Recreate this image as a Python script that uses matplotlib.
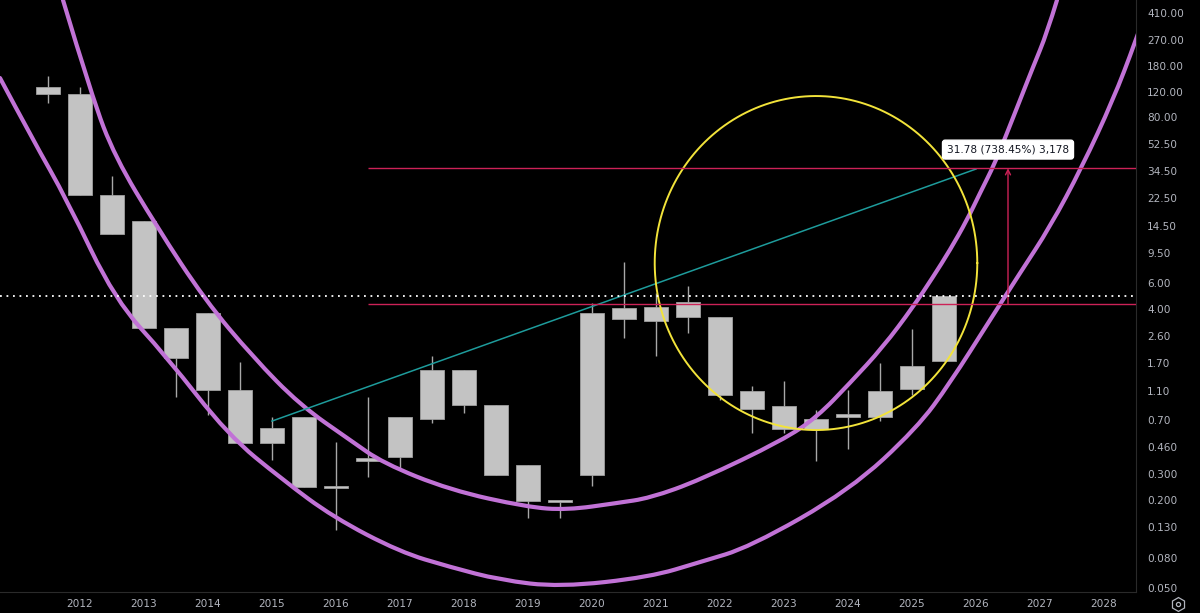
import numpy as np
import matplotlib
matplotlib.use("Agg")
import matplotlib.pyplot as plt
from matplotlib.lines import Line2D
from matplotlib.path import Path
from matplotlib.patches import PathPatch

# ---------------- data ----------------
periods = ['2011-H2', '2012-H1', '2012-H2', '2013-H1', '2013-H2', '2014-H1', '2014-H2',
           '2015-H1', '2015-H2', '2016-H1', '2016-H2', '2017-H1', '2017-H2', '2018-H1',
           '2018-H2', '2019-H1', '2019-H2', '2020-H1', '2020-H2', '2021-H1', '2021-H2',
           '2022-H1', '2022-H2', '2023-H1', '2023-H2', '2024-H1', '2024-H2', '2025-H1',
           '2025-H2']
opens = [129.5, 114.9, 23.6, 15.87, 2.97, 3.72, 1.119, 0.617, 0.736, 0.250, 0.368,
         0.394, 0.715, 1.53, 0.881, 0.3455, 0.199, 0.294, 3.42, 4.09, 3.51, 3.53,
         1.096, 0.867, 0.605, 0.768, 0.736, 1.131, 1.762]
highs = [153.8, 129.5, 31.96, 15.87, 2.97, 3.75, 1.727, 0.736, 0.736, 0.493, 0.998,
         0.736, 1.915, 1.53, 0.881, 0.3455, 0.199, 4.35, 8.35, 5.09, 5.73, 3.53,
         1.197, 1.294, 0.818, 1.119, 1.70, 2.91, 4.88]
lows = [100.7, 23.6, 12.8, 2.97, 1.008, 0.757, 0.49, 0.374, 0.246, 0.125, 0.288,
        0.323, 0.668, 0.777, 0.294, 0.15, 0.15, 0.2487, 2.54, 1.906, 2.72, 0.957,
        0.573, 0.568, 0.370, 0.444, 0.689, 1.035, 1.762]
closes = [114.9, 23.6, 12.8, 2.97, 1.856, 1.119, 0.49, 0.49, 0.246, 0.242, 0.384,
          0.736, 1.53, 0.881, 0.294, 0.1967, 0.194, 3.72, 4.02, 3.30, 4.42, 1.03,
          0.835, 0.610, 0.715, 0.736, 1.096, 1.637, 4.88]

# curved channel drawings (year, price) - anchor points
upper_arc_years = [2011.734, 2012.188, 2012.547, 2013.203, 2013.953, 2014.703, 2015.438,
                   2016.219, 2016.734, 2017.781, 2018.984, 2019.609, 2020.391, 2020.906,
                   2021.688, 2022.984, 2023.516, 2024.031, 2024.547, 2025.016, 2025.328,
                   2025.594, 2025.859, 2026.063, 2026.297, 2026.484, 2026.688, 2026.891,
                   2027.109, 2027.266]
upper_arc_prices = [503.4, 110.2, 43.04, 14.38, 4.583, 1.876, 0.8846,
                    0.5113, 0.3566, 0.2336, 0.1790, 0.1708, 0.1906, 0.2061,
                    0.2733, 0.5113, 0.7329, 1.249, 2.194, 4.107, 6.569,
                    10.03, 16.04, 24.49, 39.19, 62.68, 105.1, 176.2,
                    300.2, 503.4]
lower_arc_years = [2010.75, 2011.266, 2011.797, 2012.547, 2013.359, 2014.313, 2015.172,
                   2015.953, 2017.0, 2017.781, 2018.563, 2019.5, 2020.906, 2021.688,
                   2022.469, 2024.031, 2025.078, 2025.594, 2026.219, 2026.688, 2027.156,
                   2027.656, 2028.141, 2028.484, 2028.72]
lower_arc_prices = [148.4, 56.17, 21.95, 4.583, 1.876, 0.5529, 0.2733,
                    0.1531, 0.0885, 0.0700, 0.0571, 0.0511, 0.0598, 0.0756,
                    0.0957, 0.2336, 0.6171, 1.249, 3.350, 6.996, 14.38,
                    36.79, 105.1, 256.7, 503.0]

# trend line
trend_years = [2015.0, 2026.0]
trend_prices = [0.688, 35.66]

# price range measurement
range_change = 31.78
range_pct = 738.45
range_start_year = 2016.5
range_arrow_year = 2026.5

# highlight circle (centre year, centre price, radius in years, radius in decades)
circle_center = (2023.5, 8.18)
circle_radius_years = 2.52
circle_radius_decades = 1.136

ytick_values = [410, 270, 180, 120, 80, 52.5, 34.5, 22.5, 14.5, 9.5, 6, 4, 2.6, 1.7,
                1.1, 0.7, 0.46, 0.3, 0.2, 0.13, 0.08, 0.05]
ytick_labels = ['410.00', '270.00', '180.00', '120.00', '80.00', '52.50', '34.50',
                '22.50', '14.50', '9.50', '6.00', '4.00', '2.60', '1.70', '1.10',
                '0.70', '0.460', '0.300', '0.200', '0.130', '0.080', '0.050']
xtick_years = list(range(2012, 2029))

# ---------------- style ----------------
BG = '#000000'
CANDLE = '#c3c3c3'
CANDLE_EDGE = '#a0a0a0'
WICK = '#a8a8a8'
PURPLE = '#c172d6'
CRIMSON = '#cc2257'
TEAL = '#1e9c9c'
YELLOW = '#f2e33a'
TXT = '#b2b5be'
GRID = '#2a2a2a'


def to_year(p):
    y, hh = p.split('-')
    return int(y) + (0.5 if hh == 'H2' else 0.0)


def smooth_arc_path(years, prices):
    """Quadratic B-spline path through the anchor points (drawn by matplotlib)."""
    xs = list(years)
    ys = list(prices)
    verts = [(xs[0], ys[0])]
    codes = [Path.MOVETO]
    n = len(xs)
    for i in range(1, n - 1):
        mx = (xs[i] + xs[i + 1]) / 2
        my = np.sqrt(ys[i] * ys[i + 1])
        if i == n - 2:
            mx, my = xs[-1], ys[-1]
        verts += [(xs[i], ys[i]), (mx, my)]
        codes += [Path.CURVE3, Path.CURVE3]
    return Path(verts, codes)


x = np.array([to_year(p) for p in periods])
o = np.array(opens); h = np.array(highs); l = np.array(lows); c = np.array(closes)

fig = plt.figure(figsize=(12, 6.13), dpi=100, facecolor=BG)
ax = fig.add_axes([0, 21 / 613, 1136 / 1200, 592 / 613])
ax.set_facecolor(BG)
ax.set_yscale('log')
ax.set_xlim(2010.75, 2028.5)
ax.set_ylim(0.0473, 503.6)

# candles
ax.vlines(x, l, h, color=WICK, lw=1.0, zorder=3)
bottoms = np.minimum(o, c)
heights = np.abs(c - o)
ax.bar(x, heights, bottom=bottoms, width=0.375, color=CANDLE, edgecolor=CANDLE_EDGE,
       linewidth=0.6, zorder=4)

# arcs
for yrs, prs in [(upper_arc_years, upper_arc_prices), (lower_arc_years, lower_arc_prices)]:
    ax.add_patch(PathPatch(smooth_arc_path(yrs, prs), facecolor='none', edgecolor=PURPLE,
                           lw=3, zorder=5, capstyle='round', joinstyle='round'))

# trend line
ax.plot(trend_years, trend_prices, color=TEAL, lw=1.1, zorder=6)

# circle
t = np.linspace(0, 2 * np.pi, 400)
cx, cy = circle_center
ax.plot(cx + circle_radius_years * np.cos(t),
        10 ** (np.log10(cy) + circle_radius_decades * np.sin(t)),
        color=YELLOW, lw=1.4, zorder=6)

# price range measurement
base = range_change / (range_pct / 100)
top = base + range_change
ax.hlines([base, top], range_start_year, 2028.5, color=CRIMSON, lw=1.0, zorder=6)
ax.annotate('', xy=(range_arrow_year, top), xytext=(range_arrow_year, base),
            arrowprops=dict(arrowstyle='->', color=CRIMSON, lw=1.0,
                            mutation_scale=9, shrinkA=0, shrinkB=0), zorder=6)
label = f"{range_change:.2f} ({range_pct:.2f}%) {int(round(range_change * 100)):,}"
ax.text(range_arrow_year, top * 1.34, label, ha='center', va='center', fontsize=7.6,
        color='#131722', zorder=8,
        bbox=dict(boxstyle='round,pad=0.42,rounding_size=0.25', fc='white', ec='white'))

# current price dotted line
ax.axhline(closes[-1], color='white', lw=1.3, ls=(0, (1, 2.6)), zorder=7)

# axes styling
for s in ['top', 'left']:
    ax.spines[s].set_visible(False)
ax.spines['right'].set_color(GRID)
ax.spines['bottom'].set_color(GRID)
ax.yaxis.tick_right()
ax.set_yticks(ytick_values)
ax.set_yticklabels(ytick_labels)
ax.yaxis.set_minor_locator(matplotlib.ticker.NullLocator())
ax.set_xticks(xtick_years)
ax.set_xticklabels([str(v) for v in xtick_years])
ax.tick_params(axis='y', length=0, pad=8, labelsize=7.6, labelcolor=TXT)
ax.tick_params(axis='x', length=0, pad=5, labelsize=7.6, labelcolor=TXT)
for lab in ax.get_xticklabels() + ax.get_yticklabels():
    lab.set_family('DejaVu Sans')

# settings icon
fig.add_artist(Line2D([1178 / 1200], [9 / 613], marker='h', markersize=10,
                      markerfacecolor='none', markeredgecolor=TXT, markeredgewidth=0.9,
                      transform=fig.transFigure))
fig.add_artist(Line2D([1178 / 1200], [9 / 613], marker='o', markersize=3,
                      markerfacecolor='none', markeredgecolor=TXT, markeredgewidth=0.9,
                      transform=fig.transFigure))

fig.savefig('out.png', dpi=100, facecolor=BG)
